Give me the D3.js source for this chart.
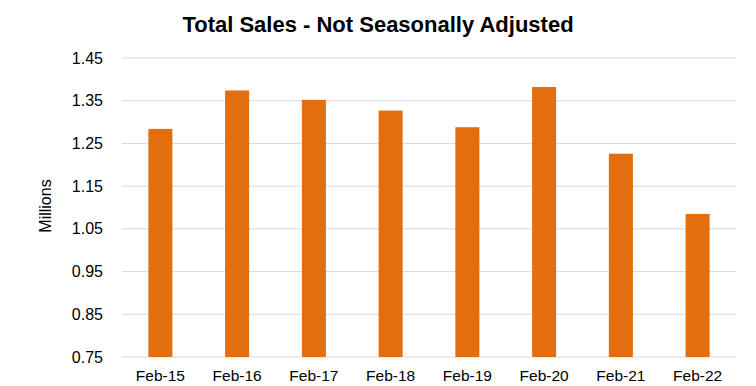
<!DOCTYPE html>
<html>
<head>
<meta charset="utf-8">
<script src="https://cdn.jsdelivr.net/npm/d3@7"></script>
<style>
  body { margin: 0; background: #fff; }
  text { font-family: "Liberation Sans", Arial, sans-serif; }
</style>
</head>
<body>
<svg id="chart" width="756" height="386"></svg>
<script>
const categories = ['Feb-15', 'Feb-16', 'Feb-17', 'Feb-18', 'Feb-19', 'Feb-20', 'Feb-21', 'Feb-22']
const sales = [1.284, 1.374, 1.352, 1.327, 1.288, 1.382, 1.226, 1.085]
const yTicks = [0.75, 0.85, 0.95, 1.05, 1.15, 1.25, 1.35, 1.45]

const margin = { top: 58, right: 20, bottom: 29, left: 122 }
const width = 756 - margin.left - margin.right
const height = 386 - margin.top - margin.bottom

const svg = d3.select('#chart')
const g = svg.append('g').attr('transform', `translate(${margin.left}, ${margin.top})`)

const x = d3.scaleBand().domain(categories).range([0, width])
  .paddingInner(0.687).paddingOuter(0.3435)
const y = d3.scaleLinear().domain([0.75, 1.45]).range([height, 0])

// gridlines
g.selectAll('.grid').data(yTicks).join('line')
  .attr('class', 'grid')
  .attr('x1', 0).attr('x2', width)
  .attr('y1', d => y(d)).attr('y2', d => y(d))
  .attr('stroke', '#d9d9d9').attr('stroke-width', 1)

// y axis labels
const yAxis = g.append('g')
  .call(d3.axisLeft(y).tickValues(yTicks).tickFormat(d3.format('.2f')).tickSize(0).tickPadding(19))
yAxis.select('.domain').remove()
yAxis.selectAll('text').attr('font-size', 16).attr('fill', '#000')
  .style('font-family', '"Liberation Sans", Arial, sans-serif')

// bars
g.selectAll('.bar').data(sales).join('rect')
  .attr('class', 'bar')
  .attr('x', (d, i) => x(categories[i]))
  .attr('width', x.bandwidth())
  .attr('y', d => y(d))
  .attr('height', d => height - y(d))
  .attr('fill', '#e26e0e')

// x axis labels
const xAxis = g.append('g').attr('transform', `translate(0, ${height})`)
  .call(d3.axisBottom(x).tickSize(0).tickPadding(13))
xAxis.select('.domain').remove()
xAxis.selectAll('text').attr('font-size', 15.5).attr('fill', '#000')
  .style('font-family', '"Liberation Sans", Arial, sans-serif')

// y axis title
svg.append('text')
  .attr('transform', 'translate(51, 206) rotate(-90)')
  .attr('text-anchor', 'middle')
  .attr('font-size', 16)
  .text('Millions')

// title
svg.append('text')
  .attr('x', 378).attr('y', 32)
  .attr('text-anchor', 'middle')
  .attr('font-size', 22)
  .attr('font-weight', 'bold')
  .text('Total Sales - Not Seasonally Adjusted')
</script>
</body>
</html>
